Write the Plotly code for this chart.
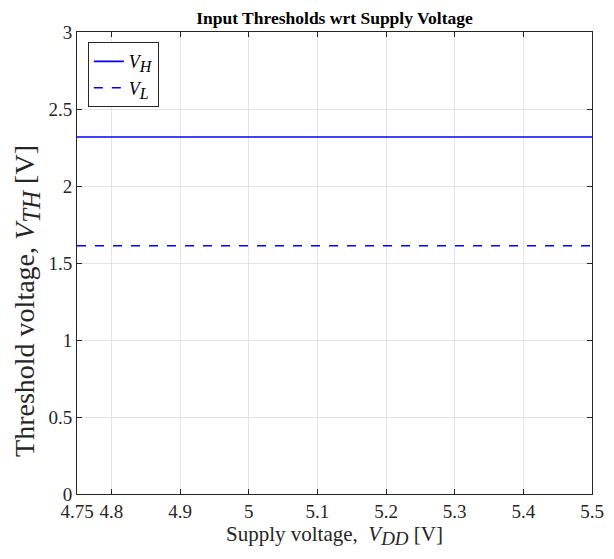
import plotly.graph_objects as go

supply_v = [4.75, 4.8, 4.9, 5.0, 5.1, 5.2, 5.3, 5.4, 5.5]
v_high = [2.318] * len(supply_v)
v_low = [1.612] * len(supply_v)
x_ticks = [4.75, 4.8, 4.9, 5.0, 5.1, 5.2, 5.3, 5.4, 5.5]
x_tick_text = ["4.75", "4.8", "4.9", "5", "5.1", "5.2", "5.3", "5.4", "5.5"]
y_ticks = [0, 0.5, 1, 1.5, 2, 2.5, 3]
y_tick_text = ["0", "0.5", "1", "1.5", "2", "2.5", "3"]

FONT = "Liberation Serif, Times New Roman, serif"
W, H = 606, 551  # page body has an 8px margin


def sub(txt, size):
    return f'<sub><span style="font-size:{size}px"><i>{txt}</i></span></sub>'


fig = go.Figure()
fig.add_trace(go.Scatter(x=supply_v, y=v_high, mode="lines",
                         line=dict(color="#0000ff", width=1.6),
                         name="<i>V</i>" + sub("H", 16)))
fig.add_trace(go.Scatter(x=supply_v, y=v_low, mode="lines",
                         line=dict(color="#0000ff", width=1.6, dash="dash"),
                         name="<i>V</i>" + sub("L", 16)))

axis_common = dict(showline=True, linecolor="#262626", linewidth=1, mirror="ticks",
                   ticks="inside", ticklen=5, tickcolor="#262626",
                   showgrid=True, gridcolor="#e3e3e3", gridwidth=1,
                   zeroline=False, automargin=False,
                   tickfont=dict(family=FONT, size=19, color="#262626"))

fig.update_layout(
    width=W, height=H,
    margin=dict(l=69, r=22, t=24, b=65),
    paper_bgcolor="white", plot_bgcolor="white",
    font=dict(family=FONT, color="#000000"),
    title=dict(text="<b>Input Thresholds wrt Supply Voltage</b>", x=0.5, xref="paper",
               y=1 - 9.5 / H, yanchor="middle", font=dict(family=FONT, size=17.5, color="black")),
    xaxis=dict(range=[4.75, 5.5], tickvals=x_ticks, ticktext=x_tick_text,
               title=dict(text="Supply voltage,  <i>V</i>" + sub("DD", 19) + " [V]",
                          font=dict(family=FONT, size=21, color="#262626"), standoff=0),
               **axis_common),
    yaxis=dict(range=[0, 3], tickvals=y_ticks, ticktext=y_tick_text, **axis_common),
    legend=dict(x=0.021, y=0.978, xanchor="left", yanchor="top",
                bgcolor="white", bordercolor="#262626", borderwidth=1,
                font=dict(family=FONT, size=18, color="black"),
                tracegroupgap=0),
    showlegend=True,
)

fig.add_annotation(text="Threshold voltage, <i>V</i>" + sub("TH", 25) + " [V]",
                   xref="paper", yref="paper", x=-0.097, y=0.418,
                   xanchor="center", yanchor="middle", textangle=-90, showarrow=False,
                   font=dict(family=FONT, size=28, color="#262626"))

fig.write_html("out.html")
